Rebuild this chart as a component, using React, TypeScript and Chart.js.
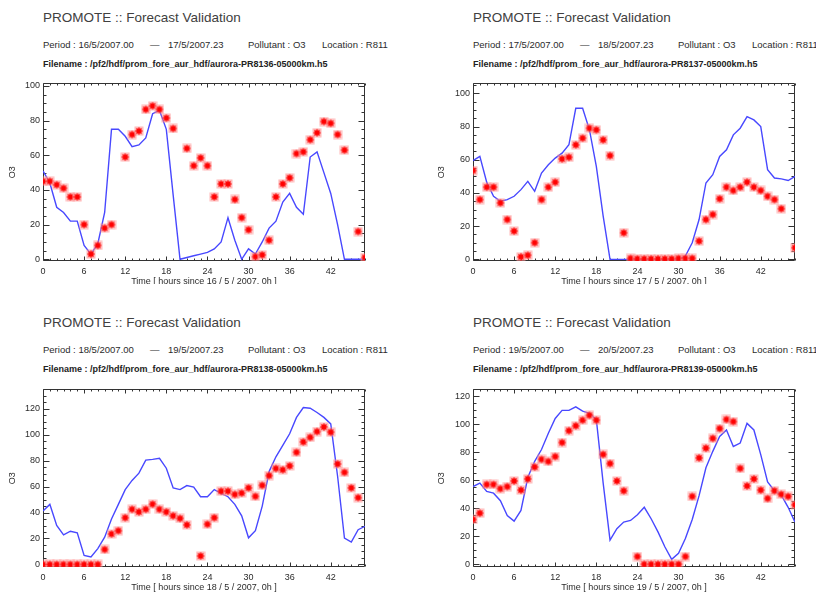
import { useEffect, useRef } from 'react';
import { Chart, registerables } from 'chart.js';

Chart.register(...registerables);

// Hour offsets of each sample from the start of the two-day period
const HOURS = [
  0, 1, 2, 3, 4, 5, 6, 7, 8, 9, 10, 11, 12, 13, 14, 15, 16, 17, 18, 19, 20, 21, 22, 23,
  24, 25, 26, 27, 28, 29, 30, 31, 32, 33, 34, 35, 36, 37, 38, 39, 40, 41, 42, 43, 44, 45, 46, 47,
];

// Observed O3 (station R811) and model forecast, one value per hour
const OBS_16 = [45, 45, 43, 41, 36, 36, 20, 3, 8, 18, 20, null, 59, 72, 74, 86.5, 88.5, 86.5, 81.5, 75.5, null, 64, 54, 58.5,
  54, 36, 43.5, 43.5, 34.5, 24, 17, 1.5, 2.5, 11, 36, 43.5, 47, 61, 62, 69, 73, 79.5, 78.5, 72, 63, null, 16, 1];
const FC_16 = [51, 44, 30, 27, 22, 22, 8, 3, 9, 27, 75, 75, 71, 65, 66, 70, 84, 86, 75, 37, 0, 1, 2, 3,
  4, 6, 10, 24, 11, 0, 6, 3, 10, 18, 22, 33, 38, 30, 26, 59, 62, 50, 38, 20, 0, 0, 0, 0];

const OBS_17 = [53.5, 36, 43.5, 43.5, 34, 24, 17, 1.5, 2.5, 10, 36, 43.5, 46.5, 60.5, 61.5, 69, 73, 79, 78, 72, 62.5, null, 16, 0.6,
  0.3, 0.3, 0.3, 0.3, 0.3, 0.3, 0.6, 0.6, 0.6, 11, 24, 27, 36.5, 43.5, 41.5, 43.5, 46.5, 43.5, 41.5, 38, 36, 30.5, null, 7];
const FC_17 = [59.5, 62, 46.5, 38, 35, 36, 38, 42, 47, 41, 52, 57, 61, 64, 69, 91, 91, 78, 56, 26, 0, 0, 0, 0,
  0, 0, 0, 0, 0, 0, 0, 2, 10, 24, 46, 51, 62, 66, 75, 79, 86, 84, 80, 54, 49, 48.5, 47.5, 50];

const OBS_18 = [0, 0, 0, 0, 0, 0, 0, 0, 0, 11.5, 23.5, 26, 36, 42.5, 40.5, 42.5, 46.5, 42.5, 40.5, 37.5, 35.5, 30.5, null, 6.5,
  31, 36, 56.5, 56.5, 54, 55, 59, 52.5, 61, 68.5, 74, 73, 76, 86.5, 94.5, 98, 102.5, 106, 102, 77.5, 71, 59, 51.5, null];
const FC_18 = [41.3, 46.3, 30, 22.8, 25.6, 24.3, 7, 5.8, 12.2, 21, 35, 46.3, 57.7, 64.8, 70.4, 80.5, 81, 81.8, 74.2, 59, 57.7, 60.8, 59.7, 52.2,
  52.2, 57.7, 54.7, 52.2, 46.3, 37.5, 20.5, 26, 45, 71.6, 83, 91.9, 100.8, 113.4, 121, 120.5, 117.2, 113.4, 108.4, 68, 20.3, 17.2, 26.8, 29.4];

const OBS_19 = [32, 36.5, 57, 57, 54, 55.5, 59.5, 53, 61, 69.5, 75, 73.5, 77, 87, 95.5, 99, 103, 106.5, 103, 78.5, 72, 59.5, 52.5, null,
  5.5, 0, 0, 0, 0, 0, 0, 5.5, 48.5, 76, 83, 90, 97, 103.5, 102, 68.5, 56, 61, 53, 47, 52.5, 50, 48.5, 42.5];
const FC_19 = [55.5, 58, 52, 50.8, 45.4, 34.8, 30.8, 38.4, 62, 73.6, 82, 93.6, 104.2, 110, 110, 112.5, 109.4, 107.8, 103.5, 58, 17.2, 25.4, 30.1, 31.3,
  35.3, 40.7, 32.5, 23.1, 12.5, 3.5, 7.8, 18.4, 32, 49, 69, 80.7, 91.3, 96, 84.2, 86.6, 100.7, 96, 78.4, 58.8, 52.5, 49.4, 40.7, 30.1];

// Axis tick labels and ranges
const X_TICKS = [0, 6, 12, 18, 24, 30, 36, 42];
const Y_TICKS_TOP = [0, 20, 40, 60, 80, 100];
const Y_TICKS_BOTTOM = [0, 20, 40, 60, 80, 100, 120];
const X_RANGE = [0, 47];
const Y_RANGES = [[-1, 101.5], [-1, 106], [-2, 135], [-2, 125]];

// Header text of each panel
const START_DATES = ['16/5/2007.00', '17/5/2007.00', '18/5/2007.00', '19/5/2007.00'];
const END_DATES = ['17/5/2007.23', '18/5/2007.23', '19/5/2007.23', '20/5/2007.23'];
const RUN_IDS = ['PR8136', 'PR8137', 'PR8138', 'PR8139'];
const BASE_DAYS = ['16 / 5 / 2007', '17 / 5 / 2007', '18 / 5 / 2007', '19 / 5 / 2007'];
const POLLUTANT = 'O3';
const LOCATION = 'R811';

const OBS = [OBS_16, OBS_17, OBS_18, OBS_19];
const FC = [FC_16, FC_17, FC_18, FC_19];

const FONT = '"Liberation Sans", Arial, sans-serif';
const INK = '#2b2b2b';
const AXIS = '#333333';
const BLUE = '#4848ff';

// Red asterisk marker with a soft pink square behind it
function makeStar(): HTMLCanvasElement {
  const c = document.createElement('canvas');
  c.width = 10;
  c.height = 10;
  const g = c.getContext('2d')!;
  g.fillStyle = 'rgba(255,140,140,0.6)';
  g.fillRect(0.5, 0.5, 9, 9);
  g.strokeStyle = '#ff0808';
  g.lineWidth = 1.5;
  g.beginPath();
  g.moveTo(5, 1.5); g.lineTo(5, 8.5);
  g.moveTo(1.5, 5); g.lineTo(8.5, 5);
  g.moveTo(2.5, 2.5); g.lineTo(7.5, 7.5);
  g.moveTo(7.5, 2.5); g.lineTo(2.5, 7.5);
  g.stroke();
  g.fillStyle = '#ff0000';
  g.fillRect(3.5, 3.5, 3, 3);
  return c;
}

// Closed frame with inward major/minor ticks on all four sides
const boxAxes = {
  id: 'boxAxes',
  beforeDatasetsDraw(chart: any) {
    const { ctx, chartArea: a, scales } = chart;
    const xs = scales.x;
    const ys = scales.y;
    const L = Math.round(a.left) + 0.5;
    const R = Math.round(a.right) - 0.5;
    const T = Math.round(a.top) + 0.5;
    const B = Math.round(a.bottom) - 0.5;
    ctx.save();
    ctx.strokeStyle = AXIS;
    ctx.lineWidth = 1;
    ctx.beginPath();
    ctx.rect(L, T, R - L, B - T);
    for (let h = Math.ceil(xs.min); h <= xs.max; h++) {
      const px = Math.round(xs.getPixelForValue(h)) + 0.5;
      const len = h % 6 === 0 ? 4 : 2;
      ctx.moveTo(px, B); ctx.lineTo(px, B - len);
      ctx.moveTo(px, T); ctx.lineTo(px, T + len);
    }
    for (let v = Math.ceil(ys.min / 5) * 5; v <= ys.max; v += 5) {
      const py = Math.round(ys.getPixelForValue(v)) + 0.5;
      const len = v % 20 === 0 ? 6 : 3;
      ctx.moveTo(L, py); ctx.lineTo(L + len, py);
      ctx.moveTo(R, py); ctx.lineTo(R - len, py);
    }
    ctx.stroke();
    ctx.restore();
  },
};

type PanelProps = { index: number };

function Panel({ index }: PanelProps) {
  const ref = useRef<HTMLCanvasElement | null>(null);
  const col = index % 2;
  const row = Math.floor(index / 2);

  const canvasLeft = col === 0 ? 0 : 410;
  const canvasWidth = col === 0 ? 410 : 406;
  const yScaleWidth = col === 0 ? 43 : 63;
  const rightPad = col === 0 ? 45 : 21;
  const canvasTop = row === 0 ? 75 : 381;
  const canvasHeight = 220;
  const clipHeight = row === 0 ? 209 : 220;
  const textLeft = canvasLeft + yScaleWidth;
  const headTop = row === 0 ? 0 : 305;

  useEffect(() => {
    if (!ref.current) return;
    const [yMin, yMax] = Y_RANGES[index];
    const yTicks = row === 0 ? Y_TICKS_TOP : Y_TICKS_BOTTOM;
    const star = makeStar();
    const tickFont = { family: FONT, size: 9 };
    const chart = new Chart(ref.current, {
      type: 'line',
      data: {
        datasets: [
          {
            label: 'Observed',
            data: HOURS.map((h, i) => ({ x: h, y: OBS[index][i] })),
            showLine: false,
            pointStyle: star as any,
            pointRadius: 5,
            order: 1,
          },
          {
            label: 'Forecast',
            data: HOURS.map((h, i) => ({ x: h, y: FC[index][i] })),
            borderColor: BLUE,
            borderWidth: 1.4,
            pointRadius: 0,
            tension: 0,
            fill: false,
            order: 2,
          },
        ],
      } as any,
      options: {
        animation: false,
        responsive: false,
        events: [],
        layout: { padding: { top: 6, right: rightPad, bottom: 0, left: 0 } },
        plugins: { legend: { display: false }, tooltip: { enabled: false } },
        scales: {
          x: {
            type: 'linear',
            min: X_RANGE[0],
            max: X_RANGE[1],
            bounds: 'data',
            afterBuildTicks: (s: any) => { s.ticks = X_TICKS.map((v) => ({ value: v })); },
            afterFit: (s: any) => { s.height = 34; },
            grid: { display: false, drawTicks: false, tickLength: 0 },
            border: { display: false },
            ticks: { padding: 5, font: tickFont, color: INK, maxRotation: 0, autoSkip: false },
            title: {
              display: true,
              text: `Time [ hours since ${BASE_DAYS[index]}, 0h ]`,
              font: tickFont,
              color: INK,
              padding: { top: 0, bottom: 8 },
            },
          },
          y: {
            type: 'linear',
            min: yMin,
            max: yMax,
            bounds: 'data',
            afterBuildTicks: (s: any) => { s.ticks = yTicks.map((v) => ({ value: v })); },
            afterFit: (s: any) => { s.width = yScaleWidth; },
            grid: { display: false, drawTicks: false, tickLength: 0 },
            border: { display: false },
            ticks: { padding: 3, font: tickFont, color: INK },
            title: {
              display: true,
              text: POLLUTANT,
              font: tickFont,
              color: INK,
              padding: { top: col === 0 ? 7.6 : 26.6, bottom: 0 },
            },
          },
        },
      } as any,
      plugins: [boxAxes],
    });
    return () => chart.destroy();
  }, [index]);

  const small: React.CSSProperties = {
    position: 'absolute',
    fontSize: 9.5,
    lineHeight: '12px',
    whiteSpace: 'nowrap',
    color: INK,
  };
  const periodTop = headTop + 39;

  return (
    <>
      <div
        style={{
          position: 'absolute',
          left: textLeft,
          top: headTop + 10,
          fontSize: 13.5,
          lineHeight: '16px',
          color: '#404040',
          whiteSpace: 'nowrap',
        }}
      >
        PROMOTE :: Forecast Validation
      </div>
      <div style={{ ...small, left: textLeft, top: periodTop }}>Period : {START_DATES[index]}</div>
      <div style={{ ...small, left: textLeft + 107, top: periodTop }}>—</div>
      <div style={{ ...small, left: textLeft + 125, top: periodTop }}>{END_DATES[index]}</div>
      <div style={{ ...small, left: textLeft + 205, top: periodTop }}>Pollutant : {POLLUTANT}</div>
      <div style={{ ...small, left: textLeft + 279, top: periodTop }}>Location : {LOCATION}</div>
      <div style={{ ...small, fontSize: 9, left: textLeft, top: headTop + 58, fontWeight: 'bold', color: '#222' }}>
        Filename : /pf2/hdf/prom_fore_aur_hdf/aurora-{RUN_IDS[index]}-05000km.h5
      </div>
      <div
        style={{
          position: 'absolute',
          left: canvasLeft,
          top: canvasTop,
          width: canvasWidth,
          height: clipHeight,
          overflow: 'hidden',
        }}
      >
        <canvas
          ref={ref}
          width={canvasWidth}
          height={canvasHeight}
          style={{ display: 'block', width: canvasWidth, height: canvasHeight }}
        />
      </div>
    </>
  );
}

export default function App() {
  return (
    <div
      style={{
        position: 'fixed',
        left: 0,
        top: 0,
        width: 816,
        height: 593,
        overflow: 'hidden',
        background: '#ffffff',
        fontFamily: FONT,
      }}
    >
      {[0, 1, 2, 3].map((i) => (
        <Panel key={i} index={i} />
      ))}
    </div>
  );
}
